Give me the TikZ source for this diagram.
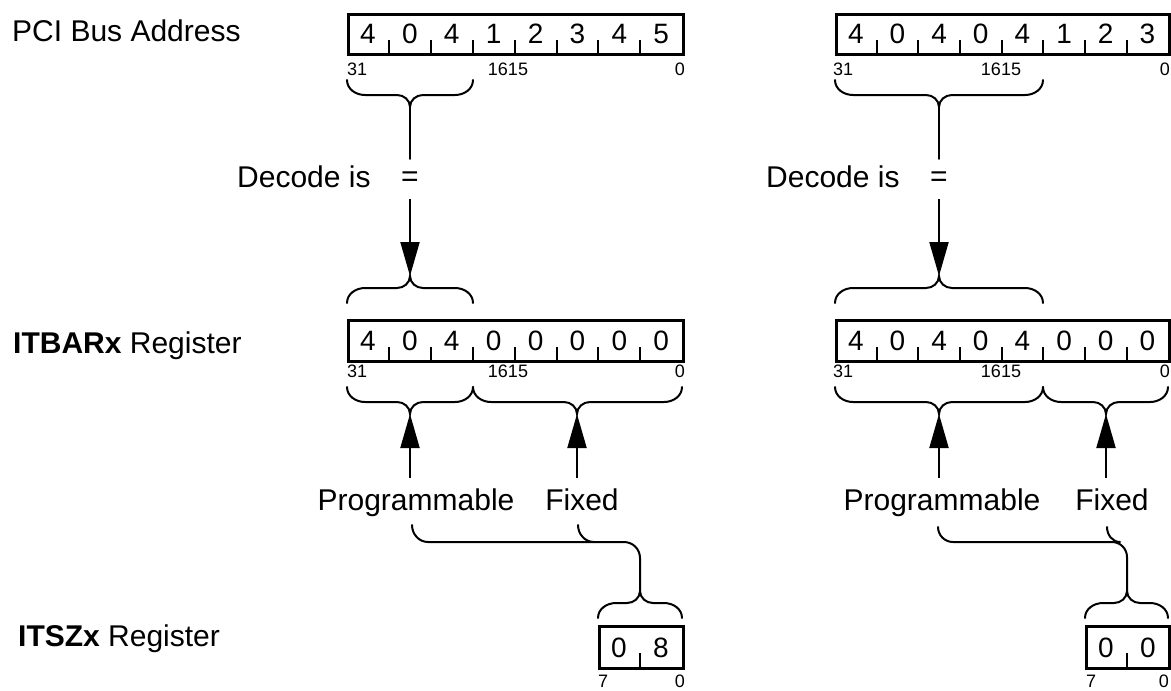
\documentclass[tikz,border=0pt]{standalone}
\usepackage{fontspec}
\setmainfont{Liberation Sans}
\usetikzlibrary{arrows.meta}
\newcommand\fsz[1]{\fontsize{#1}{#1}\selectfont}
\tikzset{
  lbl/.style={font=\fsz{30}, anchor=base west, inner sep=0pt},
  dig/.style={font=\fsz{28}, anchor=base, inner sep=0pt},
  bitlbl/.style={font=\fsz{18}, inner sep=0pt},
  regbox/.style={draw, line width=2.8pt, inner sep=0pt, anchor=north west},
  tickln/.style={line width=2pt},
  brc/.style={line width=2pt, line cap=round},
  arr/.style={line width=2pt, -{Triangle[length=34pt,width=19pt]}},
  eqs/.style={font=\fsz{30}, inner sep=0pt, minimum height=40pt},
  ann/.style={font=\fsz{30}, anchor=base, inner xsep=0pt, inner ysep=10pt},
}
\newcommand\bracedn[5]{%
  \draw[brc] (#2,#5) to[out=-90,in=180] ({#2+18},{#5+15}) -- ({#4-13},{#5+15})
    to[out=0,in=90] (#4,{#5+27}) coordinate (#1)
    to[out=90,in=180] ({#4+13},{#5+15}) -- ({#3-18},{#5+15})
    to[out=0,in=-90] (#3,#5);}
\newcommand\braceup[5]{%
  \draw[brc] (#2,#5) to[out=90,in=180] ({#2+18},{#5-15}) -- ({#4-13},{#5-15})
    to[out=0,in=-90] (#4,{#5-27}) coordinate (#1)
    to[out=-90,in=180] ({#4+13},{#5-15}) -- ({#3-18},{#5-15})
    to[out=0,in=90] (#3,#5);}
% name, x0, cell width, top, height, digit baseline, digit list
\newcommand\register[7]{%
  \node[regbox, minimum width={8*#3}, minimum height=#5] (#1) at (#2,#4) {};
  \foreach \d [count=\i] in {#7} \node[dig] (#1-\i) at ({#2+#3*(\i-0.5)},#6) {\d};
  \foreach \k in {1,...,7} \draw[tickln] ({#2+#3*\k},{#4+#5}) -- ++(0,-13);
}
\begin{document}
\begin{tikzpicture}[x=1pt,y=-1pt]
\useasboundingbox (0,0) rectangle (1171,691);
% row labels
\node[lbl] (pci) at (12,41) {PCI Bus Address};
\node[lbl] (itbar) at (13,353) {\textbf{ITBARx} Register};
\node[lbl] (itsz) at (18,646) {\textbf{ITSZx} Register};

% ================= LEFT =================
\register{addrL}{347}{41.9}{13}{40}{43}{4,0,4,1,2,3,4,5}
\node[bitlbl, anchor=base west] (addrL31) at (347,75) {31};
\node[bitlbl, anchor=base] (addrL16) at (508,75) {1615};
\node[bitlbl, anchor=base east] (addrL0) at (685,75) {0};
\bracedn{tL1}{347}{473}{410}{80}
\node[lbl] (decL) at (237,187) {Decode is};
\node[eqs] (eqL) at (410,179) {=};
\braceup{tL2}{347}{473}{410}{303}
\draw[brc] (tL1) -- (eqL);
\draw[arr] (eqL) -- (tL2);

\register{itbL}{347}{41.9}{319}{41}{350}{4,0,4,0,0,0,0,0}
\node[bitlbl, anchor=base west] (itbL31) at (347,377) {31};
\node[bitlbl, anchor=base] (itbL16) at (508,377) {1615};
\node[bitlbl, anchor=base east] (itbL0) at (685,377) {0};
\bracedn{tL3}{347}{473}{410}{387}
\bracedn{tL4}{473}{682}{577}{387}
\node[ann] (progL) at (416,510) {Programmable};
\node[ann] (fixL) at (582,510) {Fixed};
\draw[arr] (progL.north -| tL3) -- (tL3);
\draw[arr] (fixL.north -| tL4) -- (tL4);

\braceup{tL5}{598}{682}{640}{618}
\draw[brc] (412,525) to[out=-90,in=180] (428,542) -- (624,542) to[out=0,in=90] (640,558) -- (tL5);
\draw[brc] (578,525) to[out=-90,in=180] (594,542);
\node[regbox, minimum width=84pt, minimum height=42pt] (szL) at (598,625) {};
\node[dig] (szL-1) at (619,657) {0};
\node[dig] (szL-2) at (661,657) {8};
\draw[tickln] (640,667) -- ++(0,-14);
\node[bitlbl, anchor=base west] (szL7) at (598,687) {7};
\node[bitlbl, anchor=base east] (szL0) at (685,687) {0};

% ================= RIGHT =================
\register{addrR}{835}{41.65}{13}{40}{43}{4,0,4,0,4,1,2,3}
\node[bitlbl, anchor=base west] (addrR31) at (833,75) {31};
\node[bitlbl, anchor=base] (addrR16) at (1001,75) {1615};
\node[bitlbl, anchor=base east] (addrR0) at (1170,75) {0};
\bracedn{tR1}{835}{1043}{939}{80}
\node[lbl] (decR) at (766,187) {Decode is};
\node[eqs] (eqR) at (939,179) {=};
\braceup{tR2}{835}{1043}{939}{303}
\draw[brc] (tR1) -- (eqR);
\draw[arr] (eqR) -- (tR2);

\register{itbR}{835}{41.65}{319}{41}{350}{4,0,4,0,4,0,0,0}
\node[bitlbl, anchor=base west] (itbR31) at (833,377) {31};
\node[bitlbl, anchor=base] (itbR16) at (1001,377) {1615};
\node[bitlbl, anchor=base east] (itbR0) at (1170,377) {0};
\bracedn{tR3}{835}{1043}{939}{387}
\bracedn{tR4}{1043}{1168}{1106}{387}
\node[ann] (progR) at (942,510) {Programmable};
\node[ann] (fixR) at (1112,510) {Fixed};
\draw[arr] (progR.north -| tR3) -- (tR3);
\draw[arr] (fixR.north -| tR4) -- (tR4);

\braceup{tR5}{1085}{1168}{1127}{618}
\draw[brc] (938,527) to[out=-90,in=180] (953,542) -- (1112,542) to[out=0,in=90] (1127,557) -- (tR5);
\draw[brc] (1107,527) to[out=-90,in=180] (1120,542);
\node[regbox, minimum width=83pt, minimum height=42pt] (szR) at (1085,625) {};
\node[dig] (szR-1) at (1106,657) {0};
\node[dig] (szR-2) at (1148,657) {0};
\draw[tickln] (1127,667) -- ++(0,-14);
\node[bitlbl, anchor=base west] (szR7) at (1086,687) {7};
\node[bitlbl, anchor=base east] (szR0) at (1169,687) {0};
\end{tikzpicture}
\end{document}
